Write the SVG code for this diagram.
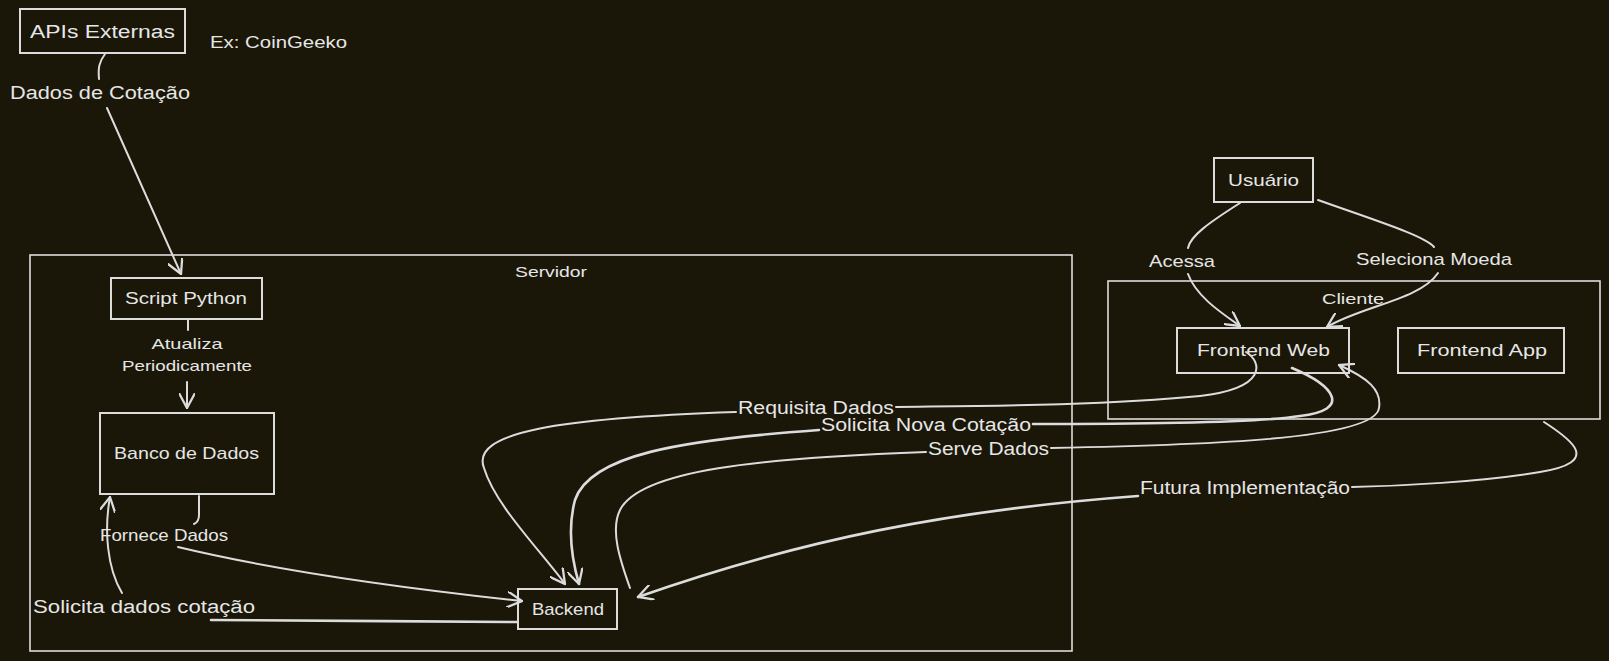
<svg xmlns="http://www.w3.org/2000/svg" width="1609" height="661" viewBox="0 0 1609 661">
<style>
.bg{fill:#1a1608}
.box{fill:#1a1608;stroke:#dcdcdc;stroke-width:2}
.grp{fill:none;stroke:#dcdcdc;stroke-width:1.6}
.t{fill:#e6e6e6;font-family:"Liberation Sans",Arial,sans-serif;font-size:17px;text-anchor:middle;dominant-baseline:central}
.ts{font-size:15px}
.tl{font-size:18px}
.c{fill:none;stroke:#dcdcdc;stroke-width:2;stroke-linecap:round}
.cb{stroke-width:2.6}
</style>
<defs>
<marker id="ahl" viewBox="0 0 14 14" refX="13" refY="7" markerWidth="16" markerHeight="16" markerUnits="userSpaceOnUse" orient="auto">
<path d="M0,0 L13,7 L0,14" fill="none" stroke="#dcdcdc" stroke-width="2"/>
</marker>
</defs>
<rect class="bg" x="0" y="0" width="1609" height="661"/>

<g id="servidor">
<rect class="grp" x="30" y="255" width="1042" height="396"/>
<text class="t ts" x="551" y="271" textLength="72" lengthAdjust="spacingAndGlyphs">Servidor</text>
</g>
<g id="cliente">
<rect class="grp" x="1108" y="281" width="492" height="138"/>
<text class="t ts" x="1353" y="298" textLength="62" lengthAdjust="spacingAndGlyphs">Cliente</text>
</g>

<g id="apis">
<rect class="box" x="20" y="9" width="165" height="44"/>
<text class="t tl" x="102.5" y="32" textLength="145" lengthAdjust="spacingAndGlyphs">APIs Externas</text>
</g>
<g id="note">
<text class="t" x="278.5" y="42" textLength="137" lengthAdjust="spacingAndGlyphs">Ex: CoinGeeko</text>
</g>
<g id="script">
<rect class="box" x="111" y="278" width="151" height="41"/>
<text class="t" x="186" y="298" textLength="122" lengthAdjust="spacingAndGlyphs">Script Python</text>
</g>
<g id="banco">
<rect class="box" x="100" y="413" width="174" height="81"/>
<text class="t" x="186.5" y="453" textLength="145" lengthAdjust="spacingAndGlyphs">Banco de Dados</text>
</g>
<g id="backend">
<rect class="box" x="518" y="589" width="99" height="40"/>
<text class="t" x="568" y="609" textLength="72" lengthAdjust="spacingAndGlyphs">Backend</text>
</g>
<g id="usuario">
<rect class="box" x="1214" y="158" width="99" height="44"/>
<text class="t" x="1263.5" y="180" textLength="71" lengthAdjust="spacingAndGlyphs">Usuário</text>
</g>
<g id="frontweb">
<rect class="box" x="1177" y="328" width="172" height="45"/>
<text class="t" x="1263.5" y="350" textLength="133" lengthAdjust="spacingAndGlyphs">Frontend Web</text>
</g>
<g id="frontapp">
<rect class="box" x="1398" y="328" width="166" height="45"/>
<text class="t" x="1482" y="350" textLength="130" lengthAdjust="spacingAndGlyphs">Frontend App</text>
</g>

<g id="connectors">
<path class="c" d="M105,54 C99,62 98,68 99,79"/>
<path class="c" marker-end="url(#ahl)" d="M107,108 L181,274"/>
<path class="c" d="M188,320 L188,330"/>
<path class="c" marker-end="url(#ahl)" d="M187,382 L187,408"/>
<path class="c" d="M199,496 L199,515 Q199,522 194,524"/>
<path class="c" marker-end="url(#ahl)" d="M178,547 C290,574 420,590 522,601"/>
<path class="c cb" d="M517,622 C420,621 300,621 211,620"/>
<path class="c" marker-end="url(#ahl)" d="M122,593 C107,568 104,530 110,497"/>
<path class="c" d="M1240,203 C1210,222 1190,236 1188,248"/>
<path class="c" marker-end="url(#ahl)" d="M1188,274 C1196,296 1220,312 1240,326"/>
<path class="c" d="M1318,200 C1380,222 1425,236 1434,247"/>
<path class="c" marker-end="url(#ahl)" d="M1438,273 C1420,300 1362,306 1327,327"/>
<path class="c" d="M1246,352 C1262,362 1268,388 1200,396 C1100,406 960,406 896,407"/>
<path class="c" marker-end="url(#ahl)" d="M736,412 C560,418 470,432 484,468 C495,505 540,550 565,584"/>
<path class="c cb" d="M1292,368 C1335,386 1352,410 1300,416 C1250,424 1100,424 1033,424"/>
<path class="c cb" marker-end="url(#ahl)" d="M819,430 C680,440 590,455 575,500 C567,530 572,560 579,584"/>
<path class="c" d="M630,588 C620,560 610,530 620,510 C640,470 760,458 926,452"/>
<path class="c" marker-end="url(#ahl)" d="M1051,448 C1200,445 1375,440 1379,408 C1382,390 1368,378 1339,365"/>
<path class="c" d="M1544,422 C1572,440 1602,462 1540,472 C1480,482 1400,486 1352,487"/>
<path class="c cb" marker-end="url(#ahl)" d="M1138,496 C950,510 800,540 638,597"/>
</g>

<g id="labels">
<text class="t tl" x="100" y="93" textLength="180" lengthAdjust="spacingAndGlyphs">Dados de Cotação</text>
<text class="t ts" x="187" y="343" textLength="71" lengthAdjust="spacingAndGlyphs">Atualiza</text>
<text class="t ts" x="187" y="365" textLength="130" lengthAdjust="spacingAndGlyphs">Periodicamente</text>
<text class="t" x="164" y="535" textLength="128" lengthAdjust="spacingAndGlyphs">Fornece Dados</text>
<text class="t tl" x="144" y="607" textLength="222" lengthAdjust="spacingAndGlyphs">Solicita dados cotação</text>
<text class="t" x="1182" y="261" textLength="66" lengthAdjust="spacingAndGlyphs">Acessa</text>
<text class="t" x="1434" y="259" textLength="156" lengthAdjust="spacingAndGlyphs">Seleciona Moeda</text>
<text class="t tl" x="816" y="408" textLength="156" lengthAdjust="spacingAndGlyphs">Requisita Dados</text>
<text class="t tl" x="926" y="425" textLength="210" lengthAdjust="spacingAndGlyphs">Solicita Nova Cotação</text>
<text class="t tl" x="988.5" y="449" textLength="121" lengthAdjust="spacingAndGlyphs">Serve Dados</text>
<text class="t tl" x="1245" y="488" textLength="210" lengthAdjust="spacingAndGlyphs">Futura Implementação</text>
</g>
</svg>
